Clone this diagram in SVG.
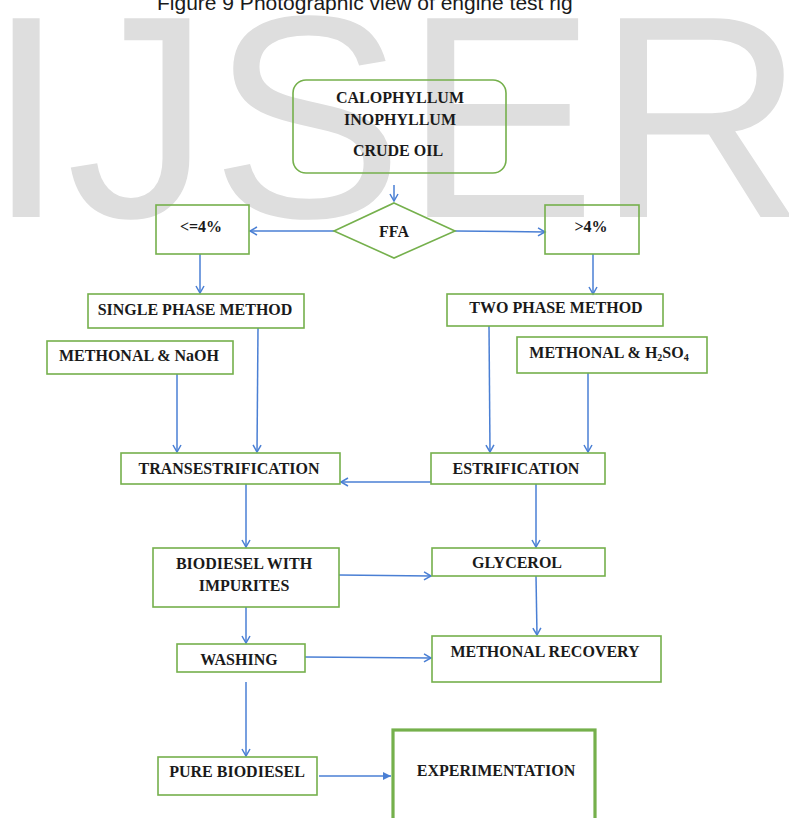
<svg xmlns="http://www.w3.org/2000/svg" width="789" height="818" viewBox="0 0 789 818">
<style>
.box{fill:none;stroke:#75b04c;stroke-width:1.6}
.thick{fill:none;stroke:#75b04c;stroke-width:3.2}
.t{font-family:"Liberation Serif","Times New Roman",serif;font-weight:bold;font-size:16px;fill:#1a1a1a;text-anchor:middle}
.c{fill:none;stroke:#4a7fd4;stroke-width:1.5}
.wm{font-family:"Liberation Sans",Arial,sans-serif;font-size:289px;fill:#dedede}
.cap{font-family:"Liberation Sans",Arial,sans-serif;font-size:21px;fill:#1a1a1a}
</style>
<defs>
<marker id="v" markerUnits="userSpaceOnUse" markerWidth="12" markerHeight="12" refX="8" refY="5" orient="auto">
<path d="M1,1 L8,5 L1,9" fill="none" stroke="#4a7fd4" stroke-width="1.5"/>
</marker>
<marker id="f" markerUnits="userSpaceOnUse" markerWidth="12" markerHeight="12" refX="8" refY="5" orient="auto">
<path d="M0,1 L8,5 L0,9 Z" fill="#4a7fd4"/>
</marker>
</defs>
<rect width="789" height="818" fill="#ffffff"/>
<text class="wm" x="-14" y="217">IJSER</text>
<text class="cap" x="157" y="9.5">Figure 9 Photographic view of engine test rig</text>

<g id="connectors">
<line class="c" x1="394" y1="185" x2="394" y2="201" marker-end="url(#v)"/>
<line class="c" x1="334" y1="231" x2="250" y2="231" marker-end="url(#v)"/>
<line class="c" x1="455" y1="231" x2="545" y2="232" marker-end="url(#v)"/>
<line class="c" x1="200" y1="254" x2="200" y2="293" marker-end="url(#v)"/>
<line class="c" x1="593" y1="254" x2="593" y2="294" marker-end="url(#v)"/>
<line class="c" x1="258" y1="328" x2="257" y2="452" marker-end="url(#v)"/>
<line class="c" x1="177" y1="374" x2="177" y2="452" marker-end="url(#v)"/>
<line class="c" x1="489" y1="326" x2="490" y2="452" marker-end="url(#v)"/>
<line class="c" x1="588" y1="373" x2="588" y2="452" marker-end="url(#v)"/>
<line class="c" x1="431" y1="482" x2="341" y2="482" marker-end="url(#v)"/>
<line class="c" x1="246" y1="484" x2="246" y2="547" marker-end="url(#v)"/>
<line class="c" x1="536" y1="484" x2="536" y2="547" marker-end="url(#v)"/>
<line class="c" x1="339" y1="575" x2="431" y2="576" marker-end="url(#v)"/>
<line class="c" x1="246" y1="607" x2="246" y2="643" marker-end="url(#v)"/>
<line class="c" x1="536" y1="576" x2="537" y2="635" marker-end="url(#v)"/>
<line class="c" x1="305" y1="657" x2="431" y2="658" marker-end="url(#v)"/>
<line class="c" x1="246" y1="682" x2="246" y2="756" marker-end="url(#v)"/>
<line class="c" x1="319" y1="776" x2="391" y2="776" marker-end="url(#f)"/>
</g>

<g id="crude">
<rect class="box" x="293" y="80" width="213" height="93" rx="13"/>
<text class="t" x="400" y="103">CALOPHYLLUM</text>
<text class="t" x="400" y="125">INOPHYLLUM</text>
<text class="t" x="398" y="156">CRUDE OIL</text>
</g>
<g id="ffa">
<polygon class="box" points="394,203 455,231 394,258 334,231"/>
<text class="t" x="394" y="237">FFA</text>
</g>
<g id="low">
<rect class="box" x="156" y="205" width="93" height="49"/>
<text class="t" x="201" y="232">&lt;=4%</text>
</g>
<g id="high">
<rect class="box" x="545" y="205" width="94" height="49"/>
<text class="t" x="591" y="232">&gt;4%</text>
</g>
<g id="single">
<rect class="box" x="88" y="294" width="216" height="34"/>
<text class="t" x="195" y="315">SINGLE PHASE METHOD</text>
</g>
<g id="two">
<rect class="box" x="447" y="294" width="216" height="32"/>
<text class="t" x="556" y="313">TWO PHASE METHOD</text>
</g>
<g id="naoh">
<rect class="box" x="47" y="341" width="186" height="33"/>
<text class="t" x="139" y="361">METHONAL &amp; NaOH</text>
</g>
<g id="h2so4">
<rect class="box" x="517" y="337" width="190" height="36"/>
<text class="t" x="609" y="358">METHONAL &amp; H<tspan font-size="10" dy="3">2</tspan><tspan dy="-3">SO</tspan><tspan font-size="10" dy="3">4</tspan></text>
</g>
<g id="trans">
<rect class="box" x="121" y="453" width="219" height="31"/>
<text class="t" x="229" y="474">TRANSESTRIFICATION</text>
</g>
<g id="estri">
<rect class="box" x="431" y="453" width="174" height="31"/>
<text class="t" x="516" y="474">ESTRIFICATION</text>
</g>
<g id="biodiesel">
<rect class="box" x="153" y="548" width="186" height="59"/>
<text class="t" x="244" y="569">BIODIESEL WITH</text>
<text class="t" x="244" y="591">IMPURITES</text>
</g>
<g id="glycerol">
<rect class="box" x="432" y="548" width="173" height="28"/>
<text class="t" x="517" y="568">GLYCEROL</text>
</g>
<g id="washing">
<rect class="box" x="177" y="644" width="128" height="28"/>
<text class="t" x="239" y="665">WASHING</text>
</g>
<g id="recovery">
<rect class="box" x="432" y="636" width="229" height="46"/>
<text class="t" x="545" y="657">METHONAL RECOVERY</text>
</g>
<g id="pure">
<rect class="box" x="158" y="757" width="159" height="38"/>
<text class="t" x="237" y="777">PURE BIODIESEL</text>
</g>
<g id="experimentation">
<rect class="thick" x="393" y="730" width="202" height="92"/>
<text class="t" x="496" y="776">EXPERIMENTATION</text>
</g>
</svg>
